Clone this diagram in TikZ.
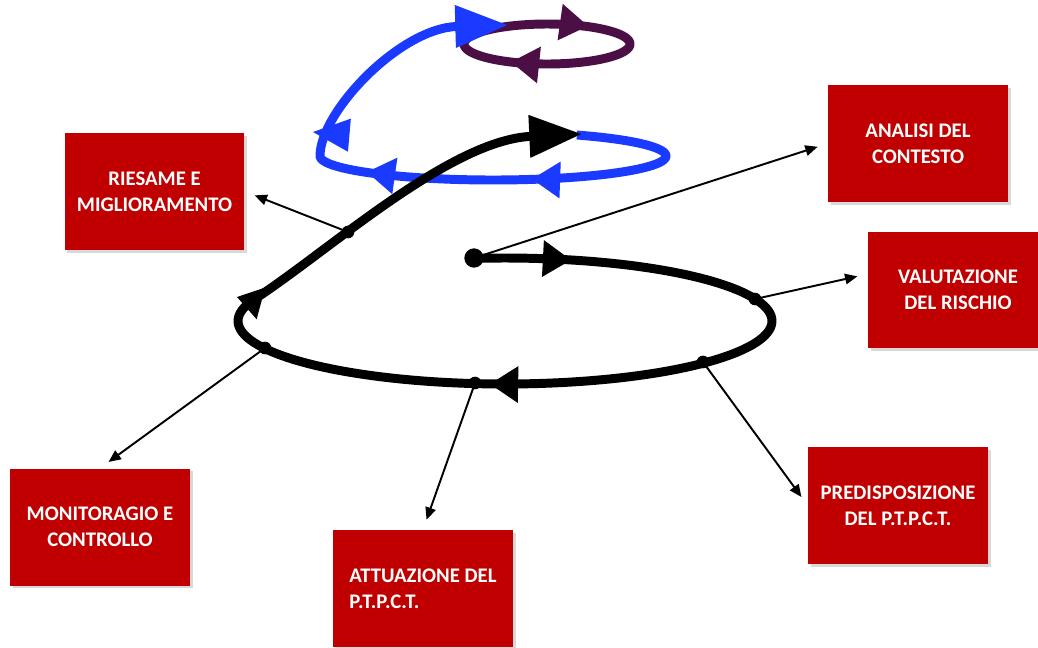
\documentclass[tikz,border=0pt]{standalone}
\usepackage{fontspec}
\setmainfont{Carlito}
\usetikzlibrary{arrows.meta,shadows}
\definecolor{boxred}{HTML}{C00000}
\definecolor{loopblue}{HTML}{1A3AFF}
\definecolor{looppurple}{HTML}{4B0F46}
% arrow head on a loop: tip at (#2,#3), pointing to angle #4
\newcommand{\loophead}[4][black]{%
  \fill[shift={(#2,#3)},rotate=#4,#1] (0,0) -- (-16pt,10.5pt) -- (-16pt,-10.5pt) -- cycle;}

\begin{document}
\begin{tikzpicture}[x=0.02cm,y=-0.02cm,
    phase/.style={fill=boxred,text=white,font=\bfseries\fontsize{11.8}{15}\selectfont,
      minimum width=3.6cm,minimum height=2.34cm,inner sep=0pt,align=center,
      drop shadow={shadow xshift=1.5pt,shadow yshift=-1.5pt,opacity=.3}},
    link/.style={-{Triangle[length=7pt,width=6pt]},line width=1.1pt,shorten >=6pt},
    spire/.style={line width=5.1pt,line join=round},
    endtip/.style={-{Triangle[length=30pt,width=23pt]}}]
  \clip (0,0) rectangle (1038,647);
  \fill[white] (0,0) rectangle (1038,647);
  % phases
  \node[phase] (ries) at (154.5,191.5) {RIESAME E\\MIGLIORAMENTO};
  \node[phase] (anal) at (918,143.5) {ANALISI DEL\\CONTESTO};
  \node[phase] (valu) at (958,290) {VALUTAZIONE\\DEL RISCHIO};
  \node[phase] (pred) at (898,505.5) {PREDISPOSIZIONE\\DEL P.T.P.C.T.};
  \node[phase,align=left] (attu) at (423,588.5) {ATTUAZIONE DEL\\P.T.P.C.T.};
  \node[phase] (moni) at (100,527) {MONITORAGIO E\\CONTROLLO};
  % points on the spiral
  \coordinate (start) at (474,258);
  \coordinate (rOut) at (348,232);
  \coordinate (vOut) at (755,299);
  \coordinate (pOut) at (703,362);
  \coordinate (aOut) at (475,383);
  \coordinate (mOut) at (265,348);
  \draw[link] (start) -- (anal.west);
  \draw[link] (vOut) -- (valu.170);
  \draw[link] (pOut) -- (pred.west);
  \draw[link] (aOut) -- (attu.north);
  \draw[link] (mOut) -- (moni.north);
  \draw[link] (rOut) -- (ries.east);
  % top loop
  \draw[spire,looppurple] plot[domain=0:360,samples=90,smooth cycle] ({547+83*cos(\x)},{44+20*sin(\x)});
  \loophead[looppurple]{588}{26}{-8}
  \loophead[looppurple]{511}{62}{174}
  % middle loop
  \draw[spire,loopblue,endtip] plot[domain=299:540,samples=90,smooth] ({493+173*cos(\x)},{156+24*sin(\x)})
    .. controls (320,112) and (400,28) .. (508,25);
  \loophead[loopblue]{532}{179}{178}
  \loophead[loopblue]{367}{172}{172}
  \loophead[loopblue,xscale=1.3,yscale=.9]{313}{132}{175}
  % main loop
  \draw[spire,endtip] plot[domain=263:560,samples=120,smooth] ({505+267*cos(\x)},{321+63*sin(\x)})
    .. controls (330,250) and (450,140) .. (582,134);
  \loophead{571}{260}{-3}
  \loophead{490}{384}{179}
  \loophead[xscale=.88,yscale=.89]{237}{297}{165}
  \fill (start) circle (5.5pt);
  \foreach \p in {rOut,vOut,pOut,aOut,mOut}
    \fill (\p) circle (3.6pt);
\end{tikzpicture}
\end{document}
